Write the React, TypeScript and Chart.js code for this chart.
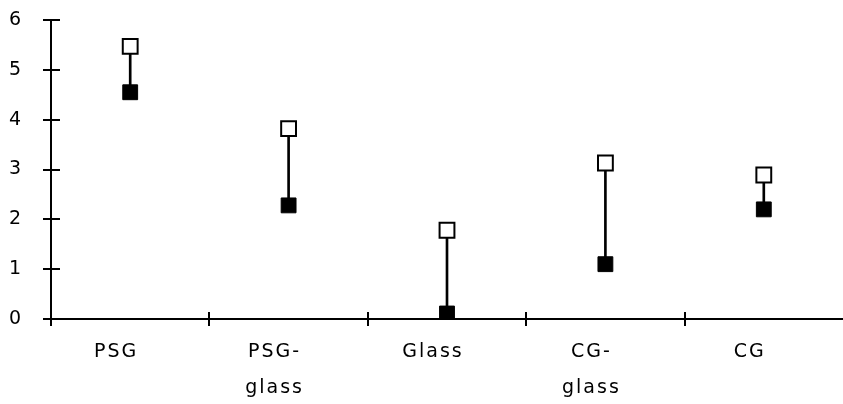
import React, { useEffect, useRef } from "react";
import { Chart, registerables } from "chart.js";

Chart.register(...registerables);

const categories: string[][] = [["PSG"], ["PSG-", "glass"], ["Glass"], ["CG-", "glass"], ["CG"]];
const openValues: number[] = [5.47, 3.82, 1.78, 3.13, 2.89];
const filledValues: number[] = [4.55, 2.28, 0.11, 1.1, 2.2];
const yTicks: number[] = [0, 1, 2, 3, 4, 5, 6];

const spacing = {
  id: "spacing",
  beforeUpdate(chart: any) {
    chart.ctx.letterSpacing = "2px";
  },
  beforeDraw(chart: any) {
    chart.ctx.letterSpacing = "2px";
  },
};

const tickCross = {
  id: "tickCross",
  afterDraw(chart: any) {
    const ctx = chart.ctx;
    const xs = chart.scales.x;
    const ys = chart.scales.y;
    const axisX = ys.right;
    const axisY = xs.top;
    ctx.save();
    ctx.strokeStyle = "#000";
    ctx.lineWidth = 2;
    ctx.beginPath();
    for (const v of yTicks) {
      const py = Math.round(ys.getPixelForValue(v));
      ctx.moveTo(axisX - 8, py);
      ctx.lineTo(axisX + 9, py);
    }
    for (let i = 0; i < categories.length; i++) {
      const px = Math.round(xs.getPixelForValue(i - 0.5));
      ctx.moveTo(px, axisY - 7);
      ctx.lineTo(px, axisY + 7);
    }
    ctx.stroke();
    ctx.restore();
  },
};

export default function App() {
  const ref = useRef<HTMLCanvasElement | null>(null);
  useEffect(() => {
    if (!ref.current) return;
    const chart = new Chart(ref.current, {
      type: "bar",
      data: {
        labels: categories as any,
        datasets: [
          {
            type: "bar",
            data: categories.map((_, i) => [filledValues[i], openValues[i]]) as any,
            backgroundColor: "#000",
            borderWidth: 0,
            barThickness: 2,
            order: 3,
          } as any,
          {
            type: "line",
            data: filledValues,
            showLine: false,
            pointStyle: "rect",
            pointRadius: 10.5,
            pointBackgroundColor: "#000",
            pointBorderColor: "#000",
            pointBorderWidth: 1,
            order: 2,
          } as any,
          {
            type: "line",
            data: openValues,
            showLine: false,
            pointStyle: "rect",
            pointRadius: 10.5,
            pointBackgroundColor: "#fff",
            pointBorderColor: "#000",
            pointBorderWidth: 2,
            order: 1,
          } as any,
        ],
      },
      options: {
        responsive: false,
        animation: false,
        layout: { autoPadding: false, padding: { top: 20, right: 0, left: 0, bottom: 0 } },
        plugins: { legend: { display: false }, tooltip: { enabled: false } },
        scales: {
          x: {
            type: "category",
            offset: true,
            grid: { display: false, drawTicks: false },
            border: { display: true, color: "#000", width: 2 },
            ticks: {
              color: "#000",
              font: { family: "DejaVu Sans", size: 19, lineHeight: 1.9 },
              padding: 15,
              labelOffset: -14,
              maxRotation: 0,
              autoSkip: false,
            },
            afterFit: (s: any) => {
              s.height = 85;
              s.paddingLeft = 0;
              s.paddingRight = 0;
            },
          },
          y: {
            min: 0,
            max: 6,
            grid: { display: false, drawTicks: false },
            border: { display: true, color: "#000", width: 2 },
            ticks: {
              stepSize: 1,
              color: "#000",
              font: { family: "DejaVu Sans", size: 19 },
              padding: 28,
            },
            afterFit: (s: any) => {
              s.width = 51;
              s.paddingTop = 0;
              s.paddingBottom = 0;
            },
          },
        },
      },
      plugins: [spacing, tickCross],
    });
    return () => chart.destroy();
  }, []);
  return (
    <canvas
      ref={ref}
      width={843}
      height={404}
      style={{ position: "absolute", left: 0, top: 0, display: "block", width: 843, height: 404 }}
    />
  );
}
